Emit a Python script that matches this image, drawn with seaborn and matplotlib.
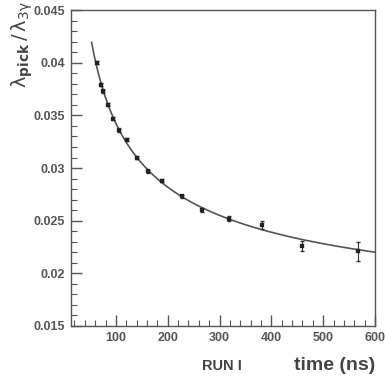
import numpy as np
import pandas as pd
import seaborn as sns
import matplotlib
matplotlib.use("Agg")
import matplotlib.pyplot as plt
from matplotlib.ticker import MultipleLocator, FixedLocator, FixedFormatter

# data
time_ns = [62.6, 70.3, 75.4, 85.0, 94.7, 106.0, 120.5, 139.8, 162.0, 189.0, 226.7, 267.0, 318.6, 381.0, 460.0, 567.6]
ratio = [0.0400, 0.0379, 0.0373, 0.0360, 0.0347, 0.0336, 0.0327, 0.0310, 0.0297, 0.0288, 0.0273, 0.0260, 0.0252, 0.0246, 0.0226, 0.0221]
ratio_err = [0.00015, 0.00015, 0.00015, 0.00015, 0.00015, 0.00015, 0.00015, 0.00015, 0.00015, 0.00015, 0.00015, 0.0002, 0.00025, 0.0004, 0.0005, 0.0009]
ytick_vals = [0.015, 0.02, 0.025, 0.03, 0.035, 0.04, 0.045]
ytick_labels = ["0.015", "0.02", "0.025", "0.03", "0.035", "0.04", "0.045"]
xtick_vals = [100, 200, 300, 400, 500, 600]
xtick_labels = ["100", "200", "300", "400", "500", "600"]

df = pd.DataFrame({"t": time_ns, "r": ratio, "e": ratio_err})

# fit y = a + b * t^-p (least squares over p grid)
t = np.array(time_ns); r = np.array(ratio); w = 1 / np.array(ratio_err)
best = None
for p in np.linspace(0.1, 2.0, 191):
    A = np.vstack([np.ones_like(t), t ** -p]).T
    coef, *_ = np.linalg.lstsq(A * w[:, None], r * w, rcond=None)
    res = np.sum(((A @ coef - r) * w) ** 2)
    if best is None or res < best[0]:
        best = (res, p, coef)
_, p_fit, c_fit = best
tf = np.linspace(53, 600, 400)
fit = pd.DataFrame({"t": tf, "r": c_fit[0] + c_fit[1] * tf ** -p_fit})

sns.set_theme(style="white")
plt.rcParams["font.family"] = ["Liberation Sans", "DejaVu Sans"]

fig = plt.figure(figsize=(3.85, 3.76), dpi=100)
ax = fig.add_axes([0.184, 0.133, 0.79, 0.840])

sns.lineplot(data=fit, x="t", y="r", ax=ax, color="#555555", linewidth=1.2)
ax.errorbar(df["t"], df["r"], yerr=df["e"], fmt="none", ecolor="#333333", elinewidth=0.8, capsize=1.5)
sns.scatterplot(data=df, x="t", y="r", ax=ax, marker="s", s=8, color="#222222", edgecolor="#222222", zorder=3)

ax.set_xlim(13, 600)
ax.set_ylim(0.015, 0.045)
ax.yaxis.set_major_locator(FixedLocator(ytick_vals))
ax.yaxis.set_major_formatter(FixedFormatter(ytick_labels))
ax.yaxis.set_minor_locator(MultipleLocator(0.001))
ax.xaxis.set_major_locator(FixedLocator(xtick_vals))
ax.xaxis.set_major_formatter(FixedFormatter(xtick_labels))
ax.xaxis.set_minor_locator(MultipleLocator(20))
ax.tick_params(which="both", direction="in", color="#555555", bottom=True, left=True, top=False, right=False)
ax.tick_params(which="major", length=8, width=1, labelsize=9, labelcolor="#555555", pad=4)
ax.tick_params(which="minor", length=4, width=0.8)
for lab in ax.get_xticklabels() + ax.get_yticklabels():
    lab.set_fontweight("bold")
for s in ax.spines.values():
    s.set_color("#555555")
    s.set_linewidth(1.0)

ax.set_xlabel("")
ax.set_ylabel("")
fig.text(0.975, 0.006, "time (ns)", ha="right", va="bottom", fontsize=14, fontweight="bold", color="#444444")
fig.text(0.577, 0.008, "RUN I", ha="center", va="bottom", fontsize=10.5, fontweight="bold", color="#444444")
fig.text(0.025, 0.997, r"$\mathsf{\lambda_{\mathbf{pick}}\,/\,\lambda_{3\gamma}}$", rotation=90, ha="left", va="top", fontsize=14, color="#444444")

fig.savefig("out.png", dpi=100)
